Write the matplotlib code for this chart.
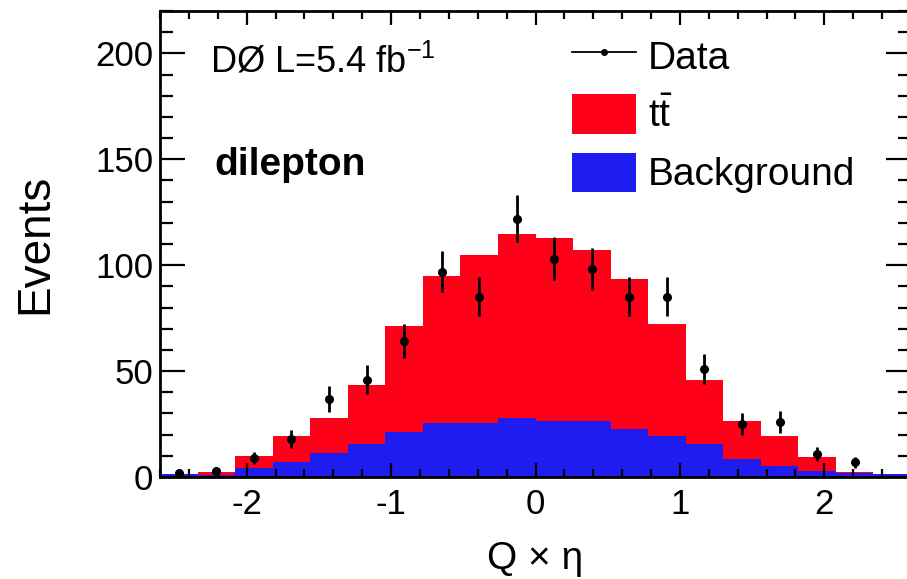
import matplotlib
matplotlib.use('Agg')
import matplotlib.pyplot as plt
from matplotlib.lines import Line2D
from matplotlib.patches import Patch
from matplotlib.ticker import MultipleLocator
import numpy as np

# Binning: 20 bins of width 0.26 between -2.6 and 2.6
bin_edges = np.linspace(-2.6, 2.6, 21)
bin_centers = 0.5 * (bin_edges[:-1] + bin_edges[1:])

# Predicted events per bin
background = [1.3, 1.0, 4.1, 7.0, 11.2, 15.5, 21.1, 25.4, 25.4, 28.0,
              26.6, 26.6, 22.5, 19.5, 15.5, 8.5, 5.4, 3.0, 1.7, 1.4]
ttbar = [0.2, 1.5, 5.8, 12.5, 16.8, 28.0, 50.3, 69.6, 79.6, 86.5,
         86.3, 80.8, 71.0, 52.9, 30.4, 18.0, 14.0, 6.6, 0.8, 0.1]
# Observed events per bin
data = [2, 3, 9, 18, 37, 46, 64, 97, 85, 122,
        103, 98, 85, 85, 51, 25, 26, 11, 7, 0]

RED = '#fe0018'
BLUE = '#1f1cf0'

plt.rcParams['font.family'] = ['Liberation Sans', 'DejaVu Sans']
plt.rcParams['axes.unicode_minus'] = False
plt.rcParams['mathtext.fontset'] = 'custom'
plt.rcParams['mathtext.rm'] = 'Liberation Sans'
plt.rcParams['mathtext.it'] = 'Liberation Sans:italic'
plt.rcParams['mathtext.bf'] = 'Liberation Sans:bold'

fig = plt.figure(figsize=(9.07, 5.79), dpi=100)
ax = fig.add_axes([160 / 907, 102 / 579, 751 / 907, 466 / 579])

bkg = np.array(background)
total = bkg + np.array(ttbar)
ax.stairs(bkg, bin_edges, fill=True, color=BLUE, lw=0)
ax.stairs(total, bin_edges, baseline=bkg, fill=True, color=RED, lw=0)

# Data points (empty bins are not drawn)
obs = np.array(data, dtype=float)
keep = obs > 0
ax.errorbar(bin_centers[keep], obs[keep], yerr=np.sqrt(obs[keep]),
            fmt='o', color='black', ms=5.5, elinewidth=2, capsize=0, zorder=5)

ax.set_xlim(-2.6, 2.6)
ax.set_ylim(0, 220)
ax.xaxis.set_major_locator(MultipleLocator(1))
ax.xaxis.set_minor_locator(MultipleLocator(0.2))
ax.yaxis.set_major_locator(MultipleLocator(50))
ax.yaxis.set_minor_locator(MultipleLocator(10))

ax.tick_params(axis='both', which='both', direction='in', top=True, right=True,
               width=1.6, colors='black')
ax.tick_params(axis='x', which='major', length=10, pad=8, labelsize=25)
ax.tick_params(axis='x', which='minor', length=5.5)
ax.tick_params(axis='y', which='major', length=18, pad=5, labelsize=25)
ax.tick_params(axis='y', which='minor', length=9.5)
for sp in ax.spines.values():
    sp.set_linewidth(2)

ax.set_xlabel('Q × η', fontsize=28, labelpad=14)
ax.set_ylabel('Events', fontsize=33, labelpad=27)

ax.text(0.066, 0.869, r'DØ L=5.4 fb$^{\mathregular{-1}}$', transform=ax.transAxes,
        fontsize=26, va='baseline', ha='left')
ax.text(0.073, 0.648, 'dilepton', transform=ax.transAxes,
        fontsize=28, fontweight='bold', va='baseline', ha='left')

handles = [Line2D([], [], color='black', marker='o', ms=4, lw=1.3),
           Patch(facecolor=RED, edgecolor='none'),
           Patch(facecolor=BLUE, edgecolor='none')]
labels = ['Data', r'$\mathregular{t\bar{t}}$', 'Background']
ax.legend(handles, labels, loc='upper left', bbox_to_anchor=(572 / 907, 1 - 36 / 579),
          bbox_transform=fig.transFigure, frameon=False, fontsize=28,
          handlelength=1.65, handleheight=1.18, labelspacing=0.45,
          handletextpad=0.3, borderpad=0, borderaxespad=0)

fig.savefig('out.png', dpi=100)
plt.close(fig)
